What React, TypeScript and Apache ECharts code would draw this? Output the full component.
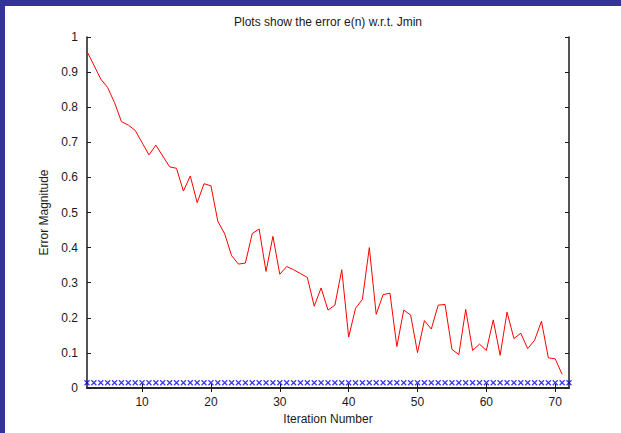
import React, { useEffect, useRef } from "react";
import * as echarts from "echarts";

// Error magnitude per iteration (iterations 2..71)
const FIRST_ITERATION = 2;
const errorValues = [
  0.959, 0.92, 0.88, 0.856, 0.813, 0.759, 0.749, 0.734, 0.699, 0.664,
  0.692, 0.661, 0.63, 0.626, 0.561, 0.604, 0.528, 0.582, 0.576, 0.475,
  0.439, 0.377, 0.353, 0.356, 0.44, 0.453, 0.332, 0.432, 0.324, 0.346,
  0.337, 0.326, 0.315, 0.233, 0.285, 0.222, 0.236, 0.337, 0.145, 0.227,
  0.253, 0.4, 0.21, 0.266, 0.27, 0.118, 0.222, 0.208, 0.101, 0.192,
  0.168, 0.236, 0.238, 0.11, 0.095, 0.224, 0.107, 0.125, 0.107, 0.194,
  0.093, 0.216, 0.141, 0.156, 0.112, 0.136, 0.19, 0.086, 0.083, 0.039,
];

// Jmin reference level, marked at every iteration 2..72
const jminIterations = [
  2, 3, 4, 5, 6, 7, 8, 9, 10, 11, 12, 13, 14, 15, 16, 17, 18, 19, 20, 21,
  22, 23, 24, 25, 26, 27, 28, 29, 30, 31, 32, 33, 34, 35, 36, 37, 38, 39,
  40, 41, 42, 43, 44, 45, 46, 47, 48, 49, 50, 51, 52, 53, 54, 55, 56, 57,
  58, 59, 60, 61, 62, 63, 64, 65, 66, 67, 68, 69, 70, 71, 72,
];
const JMIN = 0.015;

const xTickValues = [10, 20, 30, 40, 50, 60, 70];
const X_MIN = 2;
const X_MAX = 72;

const FONT = "'Liberation Sans', Arial, Helvetica, sans-serif";
const INK = "#1a1a1a";

export default function App() {
  const ref = useRef<HTMLDivElement>(null);

  useEffect(() => {
    document.body.style.margin = "0";
    const chart = echarts.init(ref.current!, undefined, { renderer: "svg" });

    const errorData = errorValues.map((v, i) => [FIRST_ITERATION + i, v]);
    const jminData = jminIterations.map((n) => [n, JMIN]);

    const boxAxisLine = { show: true, lineStyle: { color: INK, width: 1.5 } };
    const inTicks = { show: true, inside: true, length: 4, lineStyle: { color: INK, width: 1 } };

    chart.setOption({
      animation: false,
      backgroundColor: "#ffffff",
      textStyle: { fontFamily: FONT },
      graphic: [
        { type: "rect", shape: { x: 0, y: 0, width: 621, height: 6 }, style: { fill: "#333399" }, silent: true },
        { type: "rect", shape: { x: 0, y: 0, width: 5, height: 433 }, style: { fill: "#333399" }, silent: true },
        {
          type: "text",
          x: 328,
          y: 22,
          style: {
            text: "Plots show the error e(n) w.r.t. Jmin",
            fill: INK,
            font: `12px ${FONT}`,
            textAlign: "center",
            textVerticalAlign: "middle",
          },
        },
      ],
      grid: { left: 87, right: 52, top: 37, bottom: 45 },
      xAxis: [
        {
          type: "value",
          min: X_MIN,
          max: X_MAX,
          position: "bottom",
          name: "Iteration Number",
          nameLocation: "middle",
          nameGap: 24,
          nameTextStyle: { color: INK, fontSize: 12, fontFamily: FONT },
          axisLine: boxAxisLine,
          axisTick: { ...inTicks, customValues: xTickValues },
          axisLabel: { customValues: xTickValues, color: INK, fontSize: 12, margin: 8, fontFamily: FONT },
          splitLine: { show: false },
        },
        {
          type: "value",
          min: X_MIN,
          max: X_MAX,
          position: "top",
          axisLine: boxAxisLine,
          axisTick: { ...inTicks, customValues: xTickValues },
          axisLabel: { show: false },
          splitLine: { show: false },
        },
      ],
      yAxis: [
        {
          type: "value",
          min: 0,
          max: 1,
          interval: 0.1,
          position: "left",
          name: "Error Magnitude",
          nameLocation: "middle",
          nameGap: 30,
          nameTextStyle: { color: INK, fontSize: 12, fontFamily: FONT },
          axisLine: boxAxisLine,
          axisTick: inTicks,
          axisLabel: { color: INK, fontSize: 12, margin: 9, fontFamily: FONT },
          splitLine: { show: false },
        },
        {
          type: "value",
          min: 0,
          max: 1,
          interval: 0.1,
          position: "right",
          axisLine: boxAxisLine,
          axisTick: inTicks,
          axisLabel: { show: false },
          splitLine: { show: false },
        },
      ],
      series: [
        {
          type: "line",
          name: "e(n)",
          data: errorData,
          showSymbol: false,
          symbol: "none",
          lineStyle: { color: "#ff0000", width: 1 },
          z: 3,
        },
        {
          type: "scatter",
          name: "Jmin",
          data: jminData,
          symbol: "path://M0 0L10 10M10 0L0 10",
          symbolSize: 5,
          itemStyle: { color: "none", borderColor: "#0000ff", borderWidth: 1.2 },
          z: 4,
        },
      ],
    });

    return () => chart.dispose();
  }, []);

  return <div ref={ref} style={{ width: 621, height: 433 }} />;
}
